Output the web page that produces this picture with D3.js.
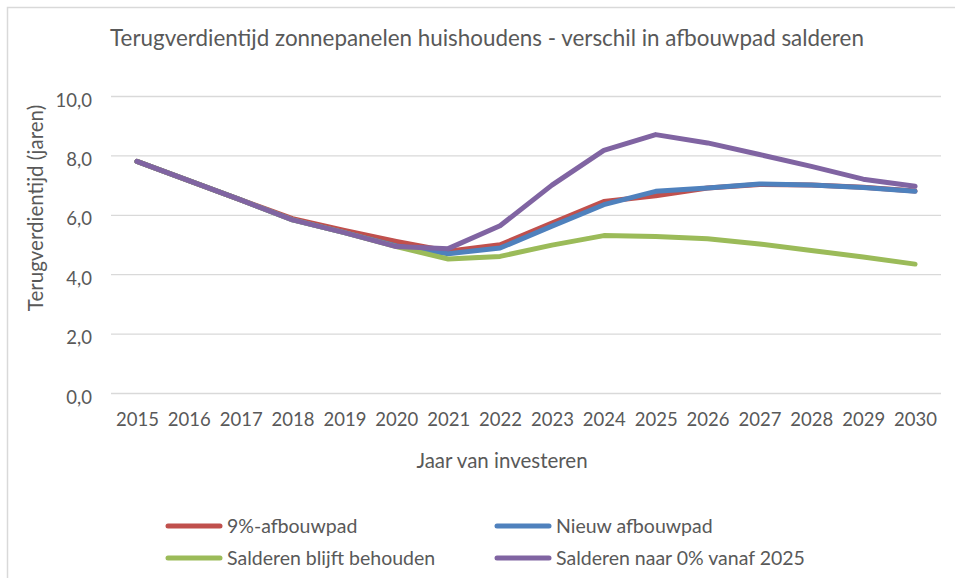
<!DOCTYPE html>
<html>
<head>
<meta charset="utf-8">
<script src="https://cdn.jsdelivr.net/npm/d3@7"></script>
<style>
  body { margin: 0; background: #fff; }
  text { font-family: Lato, "Noto Sans", sans-serif; fill: #595959; }
</style>
</head>
<body>
<div id="chart"></div>
<script>
const years = [2015, 2016, 2017, 2018, 2019, 2020, 2021, 2022, 2023, 2024, 2025, 2026, 2027, 2028, 2029, 2030];
const afbouw9 = [7.8, 7.15, 6.5, 5.87, 5.47, 5.1, 4.77, 4.99, 5.72, 6.45, 6.64, 6.9, 7.02, 7.0, 6.93, 6.8];
const nieuwAfbouw = [7.8, 7.15, 6.5, 5.83, 5.4, 4.95, 4.69, 4.88, 5.62, 6.34, 6.79, 6.9, 7.04, 7.0, 6.92, 6.79];
const blijftBehouden = [7.8, 7.15, 6.5, 5.83, 5.4, 4.93, 4.51, 4.6, 4.98, 5.3, 5.27, 5.19, 5.02, 4.8, 4.58, 4.34];
const naar0 = [7.8, 7.15, 6.5, 5.83, 5.4, 4.93, 4.86, 5.63, 7.0, 8.17, 8.7, 8.42, 8.03, 7.63, 7.2, 6.96];
const yTicks = [0, 2, 4, 6, 8, 10];

const series = [
    { name: '9%-afbouwpad', values: afbouw9, color: '#C0504D' },
    { name: 'Nieuw afbouwpad', values: nieuwAfbouw, color: '#4F81BD' },
    { name: 'Salderen blijft behouden', values: blijftBehouden, color: '#9BBB59' },
    { name: 'Salderen naar 0% vanaf 2025', values: naar0, color: '#8064A2' }
];

const WIDTH = 955;
const HEIGHT = 578;
const PLOT_LEFT = 111;
const PLOT_RIGHT = 941;
const PLOT_TOP = 96;
const PLOT_BOTTOM = 393;

const svg = d3.select('#chart')
    .append('svg')
    .attr('width', WIDTH)
    .attr('height', HEIGHT);

// chart border
svg.append('rect')
    .attr('x', 7.5)
    .attr('y', 7.5)
    .attr('width', WIDTH + 10)
    .attr('height', HEIGHT + 10)
    .attr('fill', '#fff')
    .attr('stroke', '#d9d9d9')
    .attr('stroke-width', 1.5);

const x = d3.scalePoint()
    .domain(years)
    .range([PLOT_LEFT, PLOT_RIGHT])
    .padding(0.5);

const y = d3.scaleLinear()
    .domain([0, 10])
    .range([PLOT_BOTTOM, PLOT_TOP]);

// gridlines + y labels
const yAxis = d3.axisLeft(y)
    .tickValues(yTicks)
    .tickSize(-(PLOT_RIGHT - PLOT_LEFT))
    .tickPadding(19)
    .tickFormat(d => d3.format('.1f')(d).replace('.', ','));

svg.append('g')
    .attr('transform', `translate(${PLOT_LEFT},0)`)
    .call(yAxis)
    .call(g => g.select('.domain').remove())
    .call(g => g.selectAll('line').attr('stroke', '#d9d9d9').attr('stroke-width', 1.3))
    .call(g => g.selectAll('text')
        .attr('dy', '0.55em')
        .attr('font-size', 18.5)
        .style('font-family', 'Lato, sans-serif')
        .attr('fill', '#595959'));

// x labels
const xAxis = d3.axisBottom(x)
    .tickSize(0)
    .tickPadding(20);

svg.append('g')
    .attr('transform', `translate(0,${PLOT_BOTTOM})`)
    .call(xAxis)
    .call(g => g.select('.domain').remove())
    .call(g => g.selectAll('text')
        .attr('font-size', 18.5)
        .style('font-family', 'Lato, sans-serif')
        .attr('fill', '#595959'));

// lines
const line = d3.line()
    .x((d, i) => x(years[i]))
    .y(d => y(d));

svg.selectAll('.series')
    .data(series)
    .enter()
    .append('path')
    .attr('class', 'series')
    .attr('d', d => line(d.values))
    .attr('fill', 'none')
    .attr('stroke', d => d.color)
    .attr('stroke-width', 5)
    .attr('stroke-linejoin', 'round')
    .attr('stroke-linecap', 'round');

// title
svg.append('text')
    .attr('x', 487)
    .attr('y', 46)
    .attr('text-anchor', 'middle')
    .attr('font-size', 22.4)
    .text('Terugverdientijd zonnepanelen huishoudens - verschil in afbouwpad salderen');

// axis titles
svg.append('text')
    .attr('transform', 'translate(43,208) rotate(-90)')
    .attr('text-anchor', 'middle')
    .attr('font-size', 20.5)
    .text('Terugverdientijd (jaren)');

svg.append('text')
    .attr('x', 502)
    .attr('y', 468)
    .attr('text-anchor', 'middle')
    .attr('font-size', 20.5)
    .text('Jaar van investeren');

// legend
const legendPos = [[168, 526], [497, 526], [168, 558], [497, 558]];

const legend = svg.selectAll('.legend')
    .data(series)
    .enter()
    .append('g')
    .attr('class', 'legend')
    .attr('transform', (d, i) => `translate(${legendPos[i][0]},${legendPos[i][1]})`);

legend.append('line')
    .attr('x1', 0)
    .attr('x2', 52)
    .attr('stroke', d => d.color)
    .attr('stroke-width', 5)
    .attr('stroke-linecap', 'round');

legend.append('text')
    .attr('x', 59)
    .attr('dy', '0.35em')
    .attr('font-size', 19.5)
    .text(d => d.name);
</script>
</body>
</html>
